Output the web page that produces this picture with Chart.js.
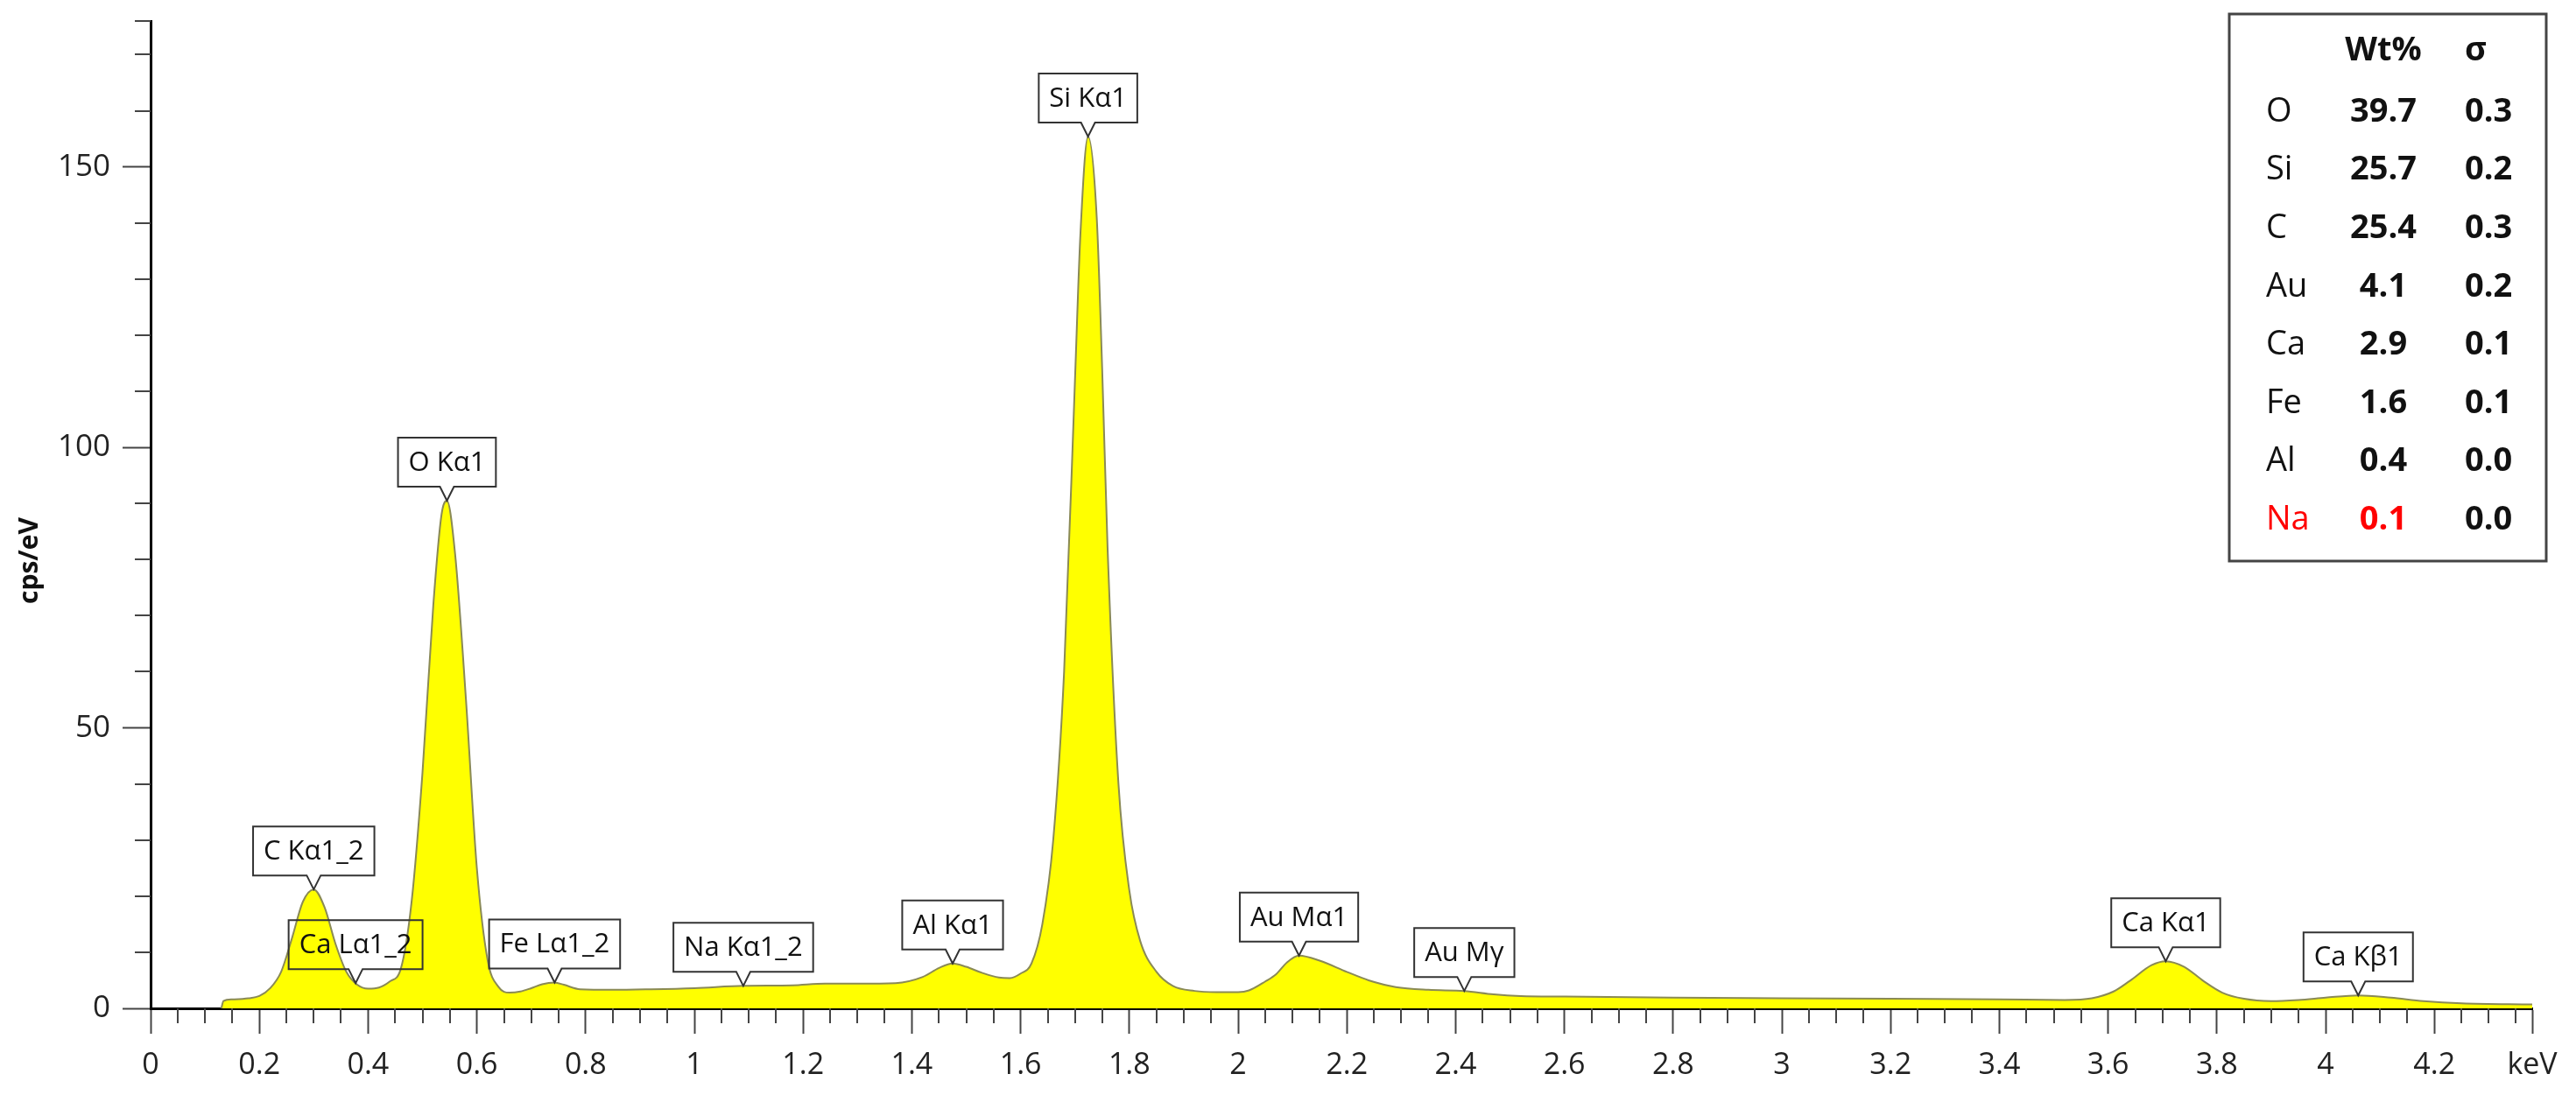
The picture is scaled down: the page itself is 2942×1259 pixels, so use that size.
<!DOCTYPE html>
<html><head><meta charset="utf-8">
<script src="https://cdn.jsdelivr.net/npm/chart.js@4.4.1/dist/chart.umd.min.js"></script>
<style>html,body{margin:0;padding:0;background:#fff;}canvas{display:block;}</style>
</head><body>
<canvas id="c" width="2942" height="1259"></canvas>
<script>
// ---- spectrum (keV vs cps/eV) ----
const energyKeV = [0.130,0.134,0.15,0.18,0.20,0.22,0.24,0.26,0.28,0.30,0.32,0.34,0.36,0.38,0.40,0.42,0.44,0.46,0.48,0.50,0.52,0.535,0.545,0.56,0.58,0.60,0.62,0.64,0.66,0.68,0.70,0.72,0.743,0.76,0.79,0.85,0.92,1.00,1.09,1.18,1.24,1.30,1.37,1.42,1.45,1.475,1.50,1.53,1.56,1.58,1.60,1.62,1.64,1.66,1.68,1.70,1.71,1.724,1.74,1.75,1.76,1.78,1.80,1.82,1.85,1.88,1.92,1.96,2.00,2.02,2.05,2.07,2.09,2.112,2.15,2.20,2.24,2.29,2.35,2.416,2.47,2.52,2.60,2.80,3.00,3.20,3.40,3.52,3.57,3.61,3.64,3.68,3.706,3.74,3.775,3.81,3.85,3.90,3.95,4.00,4.06,4.12,4.18,4.25,4.38];
const countsCps = [0.0,1.3,1.6,1.8,2.2,3.6,6.5,12.5,19.0,21.2,18.0,11.5,6.5,4.2,3.5,3.7,4.8,7.0,19.0,42.0,72.0,88.0,90.5,81.0,55.0,25.0,8.5,3.8,2.8,3.0,3.6,4.3,4.6,4.2,3.4,3.3,3.4,3.6,4.0,4.1,4.4,4.4,4.5,5.6,7.2,8.0,7.4,6.3,5.5,5.4,6.2,8.0,15.0,30.0,60.0,112.0,138.0,155.4,141.0,114.0,82.0,40.0,21.0,12.0,6.5,4.0,3.1,2.9,2.9,3.2,4.8,6.1,8.2,9.4,8.5,6.5,5.0,3.8,3.3,3.1,2.5,2.2,2.1,1.9,1.8,1.7,1.6,1.5,1.8,3.0,4.9,7.7,8.4,7.4,4.9,2.8,1.7,1.3,1.5,1.9,2.3,1.9,1.3,0.9,0.7];

// ---- peak markers ----
const peakLabels   = ['C Kα1_2','Ca Lα1_2','O Kα1','Fe Lα1_2','Na Kα1_2','Al Kα1','Si Kα1','Au Mα1','Au Mγ','Ca Kα1','Ca Kβ1'];
const peakEnergies = [0.30,0.377,0.545,0.743,1.09,1.475,1.724,2.112,2.416,3.706,4.06];
const peakCounts   = [21.2,4.5,90.5,4.6,4.0,8.0,155.4,9.4,3.1,8.4,2.3];

// ---- quantification table ----
const tableElements = ['O','Si','C','Au','Ca','Fe','Al','Na'];
const tableWt       = ['39.7','25.7','25.4','4.1','2.9','1.6','0.4','0.1'];
const tableSigma    = ['0.3','0.2','0.3','0.2','0.1','0.1','0.0','0.0'];
const tableHeaders  = ['Wt%','σ'];
const highlightRow  = 'Na';

// ---- axes ----
const xMin = 0, xMax = 4.38, xStep = 0.05;
const yMin = 0, yMax = 176, yStep = 10;
const xTickLabels = ['0','0.2','0.4','0.6','0.8','1','1.2','1.4','1.6','1.8','2','2.2','2.4','2.6','2.8','3','3.2','3.4','3.6','3.8','4','4.2'];
const xUnitLabel = 'keV';
const yTickLabels = ['0','50','100','150'];
const yTitle = 'cps/eV';

const xTicks = [];
for (let i = 0; i * xStep <= xMax - 0.02; i++) xTicks.push(+(i * xStep).toFixed(2));
xTicks.push(xMax);
const yTicks = [];
for (let v = yMin; v < yMax; v += yStep) yTicks.push(v);
yTicks.push(yMax);

const isMajorX = (idx) => idx === xTicks.length - 1 || idx % 4 === 0;
const isMajorY = (idx) => idx < yTicks.length - 1 && idx % 5 === 0;

const FONT = "'Open Sans', 'Noto Sans', sans-serif";

const minorTicks = {
  id: 'minorTicks',
  afterDraw(chart) {
    const c = chart.ctx, xs = chart.scales.x, ys = chart.scales.y;
    c.save();
    c.strokeStyle = '#444'; c.lineWidth = 2;
    xs.ticks.forEach((t, i) => {
      if (isMajorX(i)) return;
      const px = Math.round(xs.getPixelForValue(t.value));
      c.beginPath(); c.moveTo(px, xs.top); c.lineTo(px, xs.top + 17); c.stroke();
    });
    ys.ticks.forEach((t, i) => {
      if (isMajorY(i)) return;
      const py = Math.round(ys.getPixelForValue(t.value));
      c.beginPath(); c.moveTo(ys.right - 18, py); c.lineTo(ys.right, py); c.stroke();
    });
    c.restore();
  }
};

const peakCallouts = {
  id: 'peakCallouts',
  afterDatasetsDraw(chart) {
    const c = chart.ctx, xs = chart.scales.x, ys = chart.scales.y;
    c.save();
    c.font = '31px ' + FONT;
    c.textAlign = 'center'; c.textBaseline = 'middle';
    peakLabels.forEach((lab, i) => {
      const px = xs.getPixelForValue(peakEnergies[i]);
      const py = ys.getPixelForValue(peakCounts[i]);
      const w = c.measureText(lab).width + 24, h = 56;
      const bottom = py - 16, top = bottom - h;
      const left = px - w / 2, right = px + w / 2;
      c.beginPath();
      c.moveTo(left, bottom); c.lineTo(px - 8, bottom); c.lineTo(px, py);
      c.lineTo(px + 8, bottom); c.lineTo(right, bottom); c.lineTo(right, top);
      c.lineTo(left, top); c.closePath();
      c.strokeStyle = '#333'; c.lineWidth = 2; c.stroke();
      c.fillStyle = '#111';
      c.fillText(lab, px, top + h / 2 + 1);
    });
    c.restore();
  }
};

const quantTable = {
  id: 'quantTable',
  afterDraw(chart) {
    const c = chart.ctx;
    c.save();
    c.fillStyle = '#fff';
    c.fillRect(2546, 16, 362, 625);
    c.strokeStyle = '#444'; c.lineWidth = 3;
    c.strokeRect(2546, 16, 362, 625);
    c.textBaseline = 'middle';
    c.fillStyle = '#111';
    c.font = 'bold 38px ' + FONT;
    c.textAlign = 'center'; c.fillText(tableHeaders[0], 2722, 58);
    c.textAlign = 'left'; c.fillText(tableHeaders[1], 2815, 58);
    tableElements.forEach((el, i) => {
      const y = 128 + i * 66.6;
      const red = el === highlightRow;
      c.fillStyle = red ? '#ff0000' : '#111';
      c.font = '38px ' + FONT; c.textAlign = 'left'; c.fillText(el, 2588, y);
      c.font = 'bold 38px ' + FONT; c.textAlign = 'center'; c.fillText(tableWt[i], 2722, y);
      c.fillStyle = '#111';
      c.textAlign = 'left'; c.fillText(tableSigma[i], 2815, y);
    });
    c.restore();
  }
};

new Chart(document.getElementById('c'), {
  type: 'line',
  data: {
    datasets: [{
      data: energyKeV.map((x, i) => ({ x, y: countsCps[i] })),
      fill: 'origin',
      backgroundColor: '#ffff00',
      borderColor: '#8a8a55',
      borderWidth: 2,
      pointRadius: 0,
      cubicInterpolationMode: 'monotone'
    }]
  },
  options: {
    responsive: false, animation: false, devicePixelRatio: 1,
    layout: { padding: { top: 24, right: 50, left: 0, bottom: 0 } },
    plugins: { legend: { display: false }, tooltip: { enabled: false } },
    scales: {
      x: {
        type: 'linear', min: xMin, max: xMax,
        afterBuildTicks: s => { s.ticks = xTicks.map(v => ({ value: v })); },
        afterFit: s => { s.height = 107; s.paddingLeft = 0; s.paddingRight = 0; },
        border: { display: true, color: '#000', width: 3 },
        grid: { drawOnChartArea: false, drawTicks: true, tickLength: 29, tickWidth: 2,
                tickColor: ctx => isMajorX(ctx.index) ? '#444' : 'rgba(0,0,0,0)' },
        ticks: { autoSkip: false, maxRotation: 0, minRotation: 0, padding: 16, color: '#222',
                 font: { family: FONT, size: 34 },
                 callback: (v, i) => i === xTicks.length - 1 ? xUnitLabel : (i % 4 === 0 ? xTickLabels[i / 4] : '') }
      },
      y: {
        type: 'linear', min: yMin, max: yMax,
        afterBuildTicks: s => { s.ticks = yTicks.map(v => ({ value: v })); },
        afterFit: s => { s.width = 172; s.paddingTop = 0; s.paddingBottom = 0; },
        border: { display: true, color: '#000', width: 3 },
        grid: { drawOnChartArea: false, drawTicks: true, tickLength: 32, tickWidth: 2,
                tickColor: ctx => isMajorY(ctx.index) ? '#444' : 'rgba(0,0,0,0)' },
        ticks: { autoSkip: false, padding: 14, color: '#222', font: { family: FONT, size: 35 },
                 callback: (v, i) => isMajorY(i) ? yTickLabels[i / 5] : '' },
        title: { display: true, text: yTitle + '\u2003\u2003\u2003\u2002', color: '#111', padding: { top: 16, bottom: 0 },
                 font: { family: FONT, size: 30, weight: 'bold' } }
      }
    }
  },
  plugins: [minorTicks, peakCallouts, quantTable]
});
</script>
</body></html>
